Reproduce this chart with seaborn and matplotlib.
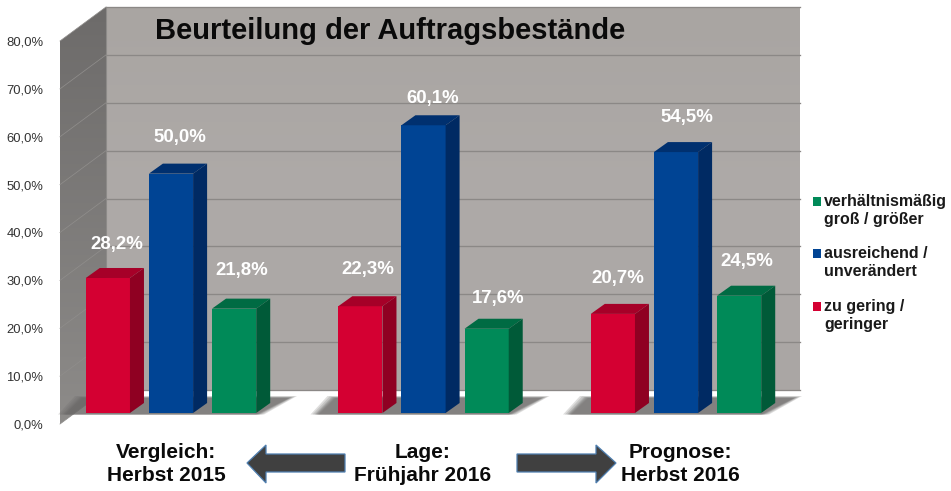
import numpy as np
import pandas as pd
import seaborn as sns
import matplotlib
matplotlib.use("Agg")
import matplotlib.pyplot as plt
from matplotlib.patches import Polygon, Rectangle

periods = ["Vergleich", "Lage", "Prognose"]
series = ["zu gering", "ausreichend", "groß"]
zu_gering = [28.2, 22.3, 20.7]
ausreichend = [50.0, 60.1, 54.5]
gross = [21.8, 17.6, 24.5]
yticks = [0, 10, 20, 30, 40, 50, 60, 70, 80]
period_labels = ["Vergleich:\nHerbst 2015", "Lage:\nFrühjahr 2016", "Prognose:\nHerbst 2016"]
legend_labels = ["zu gering /\ngeringer", "ausreichend /\nunverändert", "verhältnismäßig\ngroß / größer"]

W, H = 951, 491
colors = {"zu gering": "#d40032", "ausreichend": "#004494", "groß": "#008a58"}
top_colors = ["#a60028", "#00306f", "#006b43"]
side_colors = ["#8f0022", "#002a63", "#005a38"]

df = pd.DataFrame({
    "period": periods * 3,
    "series": np.repeat(series, 3),
    "value": zu_gering + ausreichend + gross,
})

plt.rcParams["font.family"] = ["Liberation Sans", "DejaVu Sans"]
fig = plt.figure(figsize=(W / 100, H / 100), dpi=100)


def box(x0, y_top, x1, y_bottom):
    # pixel box (top left origin) to figure fractions
    return [x0 / W, 1 - y_bottom / H, (x1 - x0) / W, (y_bottom - y_top) / H]


# backdrop in pixel coordinates
bg = fig.add_axes([0, 0, 1, 1], zorder=0)
bg.set_xlim(0, W)
bg.set_ylim(H, 0)
bg.axis("off")

px_per_unit = 383 / 80
grad = np.linspace(0, 1, 200).reshape(-1, 1)
wall_img = bg.imshow(grad, extent=(106, 800, 390, 7), cmap=sns.blend_palette(["#a9a5a2", "#aeaaa8", "#aaa6a4"], as_cmap=True),
                     aspect="auto", zorder=1)
side_img = bg.imshow(grad, extent=(60, 106, 424, 7), cmap=sns.blend_palette(["#6d6b6a", "#8d8b89"], as_cmap=True),
                     aspect="auto", zorder=1)
side_poly = Polygon([(60, 41), (106, 7), (106, 390), (60, 424)], transform=bg.transData, fc="none", ec="none")
bg.add_patch(side_poly)
side_img.set_clip_path(side_poly)
bg.set_xlim(0, W)
bg.set_ylim(H, 0)

for v in yticks:
    y = 390 - v * px_per_unit
    bg.plot([106, 800], [y, y], color="#8b8886", lw=0.95, zorder=2)
    bg.plot([60, 106], [y + 34, y], color="#8f8d8b", lw=0.55, zorder=2)
bg.plot([106, 106], [7, 390], color="#8c8a88", lw=0.8, zorder=2)

# floor shadows, layered to get a soft edge
for c in [171, 423.5, 676]:
    for grow in [8, 6, 4, 3, 2, 1, 0]:
        pts = [(c - 105 - grow, 414.5), (c + 85 + grow, 414.5),
               (c + 118 + grow, 398 - grow * 0.25), (c - 88 - grow, 398 - grow * 0.25)]
        bg.add_patch(Polygon(pts, fc="#6b6968", ec="none", alpha=0.22, zorder=3))

# tick labels sit on the front plane of the chart
front = fig.add_axes(box(60, 41, 61, 424), zorder=1)
front.patch.set_visible(False)
front.set_ylim(0, 80)
front.set_xticks([])
front.set_yticks(yticks, [f"{v:.1f}%".replace(".", ",") for v in yticks])
front.tick_params(axis="y", length=0, pad=12, labelsize=9.4, labelcolor="#333333")
sns.despine(ax=front, left=True, bottom=True)

# bars
ax = fig.add_axes(box(44.75, 30, 802.25, 413), zorder=2)
ax.patch.set_visible(False)
sns.barplot(data=df, x="period", y="value", hue="series", hue_order=series, palette=colors,
            order=periods, width=0.75, gap=0.3, saturation=1, legend=False, ax=ax)
ax.set_xlim(-0.5, 2.5)
ax.set_ylim(0, 80)
ax.axis("off")

depth_x = 14 / 252.5
depth_y = 10 / px_per_unit
# label nudges in pixels from the front top centre of each bar
nudges = [(9, 33), (7, 37), (5, 35), (9, 36), (9, 27), (11, 35), (8, 38), (12, 30), (8, 34)]
for i, bar in enumerate(ax.patches):
    s = i // 3
    x0, w, v = bar.get_x(), bar.get_width(), bar.get_height()
    x1 = x0 + w
    ax.add_patch(Polygon([(x0, v), (x1, v), (x1 + depth_x, v + depth_y), (x0 + depth_x, v + depth_y)],
                         fc=top_colors[s], ec="none", zorder=3, clip_on=False))
    ax.add_patch(Polygon([(x1, 0), (x1 + depth_x, depth_y), (x1 + depth_x, v + depth_y), (x1, v)],
                         fc=side_colors[s], ec="none", zorder=3, clip_on=False))
    ax.annotate(f"{v:.1f}%".replace(".", ","), (x0 + w / 2, v), xytext=nudges[i], textcoords="offset pixels",
                ha="center", va="center", color="white", fontsize=13.4, fontweight="bold", zorder=5)

# title and lower captions
bg.text(390, 31, "Beurteilung der Auftragsbestände", ha="center", va="center", fontsize=21,
        fontweight="bold", color="#0a0a0a", zorder=6)
for x, label in zip([166, 423, 680], period_labels):
    bg.text(x, 464, label, ha="center", va="center", fontsize=15, fontweight="bold",
            color="#0a0a0a", linespacing=1.27, zorder=6)

# arrows
arrow_left = [(247, 463), (266, 445), (266, 454), (345, 454), (345, 472), (266, 472), (266, 483)]
arrow_right = [(616, 463), (596, 445), (596, 454), (517, 454), (517, 472), (596, 472), (596, 483)]
for pts in [arrow_left, arrow_right]:
    bg.add_patch(Polygon(pts, fc="#404040", ec="#4f7fb0", lw=0.9, zorder=6))

# legend
legend_colors = [colors["zu gering"], colors["ausreichend"], colors["groß"]]
for y, c, label in zip([302, 249, 197], legend_colors, legend_labels):
    bg.add_patch(Rectangle((813, y), 8, 9, fc=c, ec="none", zorder=6))
    bg.text(824, y + 13.5, label, ha="left", va="center", fontsize=11.5, fontweight="bold",
            color="#1a1a1a", linespacing=1.29, zorder=6)

fig.savefig("out.png", dpi=100)
